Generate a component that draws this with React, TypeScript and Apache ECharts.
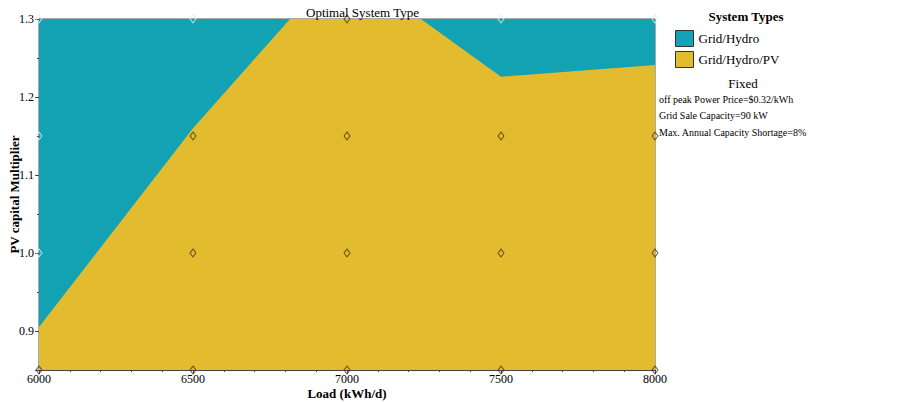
import React, { useEffect, useRef } from "react";
import * as echarts from "echarts";

const FONT = "'Liberation Serif', 'Times New Roman', serif";

const seriesNames = ["Grid/Hydro", "Grid/Hydro/PV"];
const seriesColors = ["#13a2b3", "#e2bb2e"];

// boundary between Grid/Hydro (above) and Grid/Hydro/PV (below)
const boundaryLoad = [6000, 6500, 6815, 7240, 7500, 8000];
const boundaryPV = [0.905, 1.16, 1.3, 1.3, 1.226, 1.241];

// top of the plotted region (Grid/Hydro fills everything above the boundary)
const topLoad = [6000, 8000];
const topPV = [1.3, 1.3];

// sensitivity points
const ptsYellowLoad = [7000, 6000, 6500, 7000, 7500, 8000, 6500, 7000, 7500, 8000, 6500, 7000, 7500, 8000];
const ptsYellowPV = [1.3, 0.85, 0.85, 0.85, 0.85, 0.85, 1.15, 1.15, 1.15, 1.15, 1.0, 1.0, 1.0, 1.0];
const ptsTealLoad = [6000, 6500, 7500, 8000, 6000, 6000];
const ptsTealPV = [1.3, 1.3, 1.3, 1.3, 1.15, 1.0];

const fixedLines = [
  "off peak Power Price=$0.32/kWh",
  "Grid Sale Capacity=90 kW",
  "Max. Annual Capacity Shortage=8%",
];

const zip = (a: number[], b: number[]) => a.map((v, i) => [v, b[i]]);

export default function App() {
  const ref = useRef<HTMLDivElement>(null);
  useEffect(() => {
    if (!ref.current) return;
    const chart = echarts.init(ref.current, undefined, { renderer: "svg" });
    chart.setOption({
      animation: false,
      textStyle: { fontFamily: FONT },
      title: [
        {
          text: "Optimal System Type",
          left: 301,
          top: 1,
          textStyle: { fontFamily: FONT, fontSize: 13, fontWeight: "normal", color: "#000" },
        },
        {
          text: "System Types",
          left: 741,
          top: 5,
          textAlign: "center",
          textStyle: { fontFamily: FONT, fontSize: 13, fontWeight: "bold", color: "#000" },
        },
        {
          text: "Fixed",
          left: 738,
          top: 72,
          textAlign: "center",
          textStyle: { fontFamily: FONT, fontSize: 13, fontWeight: "normal", color: "#000" },
        },
      ],
      legend: {
        data: seriesNames,
        orient: "vertical",
        left: 670,
        top: 25,
        itemWidth: 18,
        itemHeight: 16,
        itemGap: 4,
        icon: "rect",
        itemStyle: { borderColor: "#333", borderWidth: 1 },
        textStyle: { fontFamily: FONT, fontSize: 13, color: "#000" },
        selectedMode: false,
      },
      graphic: fixedLines.map((t, i) => ({
        type: "text",
        left: 659,
        top: 94 + i * 16.5,
        style: { text: t, font: `10px ${FONT}`, fill: "#000" },
      })),
      grid: {
        left: 39,
        right: 247,
        top: 19,
        bottom: 32,
        containLabel: false,
        outerBoundsMode: "none",
        show: true,
        borderColor: "#555",
        borderWidth: 1,
        backgroundColor: "transparent",
      },
      xAxis: {
        type: "value",
        min: 6000,
        max: 8000,
        interval: 500,
        name: "Load (kWh/d)",
        nameLocation: "middle",
        nameGap: 17,
        nameMoveOverlap: false,
        nameTextStyle: { fontFamily: FONT, fontSize: 13, fontWeight: "bold", color: "#000" },
        axisLine: { show: true, lineStyle: { color: "#444" } },
        axisTick: { show: true, length: 4, lineStyle: { color: "#444" } },
        minorTick: { show: true, splitNumber: 5, length: 2, lineStyle: { color: "#444" } },
        splitLine: { show: false },
        axisLabel: {
          fontFamily: FONT,
          fontSize: 12,
          color: "#000",
          margin: 3,
          formatter: (v: number) => String(Math.round(v)),
        },
      },
      yAxis: {
        type: "value",
        min: 0.85,
        max: 1.3,
        name: "PV capital Multiplier",
        nameLocation: "middle",
        nameGap: 18,
        nameMoveOverlap: false,
        nameTextStyle: { fontFamily: FONT, fontSize: 13, fontWeight: "bold", color: "#000" },
        axisLine: { show: true, lineStyle: { color: "#444" } },
        axisTick: { show: true, length: 4, lineStyle: { color: "#444" } },
        minorTick: { show: true, splitNumber: 2, length: 2, lineStyle: { color: "#444" } },
        splitLine: { show: false },
        axisLabel: {
          fontFamily: FONT,
          fontSize: 12,
          color: "#000",
          margin: 5,
          formatter: (v: number) =>
            Math.abs(v * 10 - Math.round(v * 10)) < 1e-6 ? v.toFixed(1) : "",
        },
      },
      series: [
        {
          name: seriesNames[0],
          type: "line",
          data: zip(topLoad, topPV),
          symbol: "none",
          lineStyle: { width: 0 },
          itemStyle: { color: seriesColors[0] },
          areaStyle: { color: seriesColors[0], opacity: 1, origin: "start" },
          silent: true,
          z: 1,
        },
        {
          name: seriesNames[1],
          type: "line",
          data: zip(boundaryLoad, boundaryPV),
          symbol: "none",
          lineStyle: { width: 0 },
          itemStyle: { color: seriesColors[1] },
          areaStyle: { color: seriesColors[1], opacity: 1, origin: "start" },
          silent: true,
          z: 2,
        },
        {
          name: "pointsYellow",
          type: "scatter",
          data: zip(ptsYellowLoad, ptsYellowPV),
          symbol: "diamond",
          symbolSize: [6, 8],
          itemStyle: { color: "transparent", borderColor: "#4a3a0a", borderWidth: 1 },
          silent: true,
          z: 3,
        },
        {
          name: "pointsTeal",
          type: "scatter",
          data: zip(ptsTealLoad, ptsTealPV),
          symbol: "diamond",
          symbolSize: [6, 8],
          itemStyle: { color: "transparent", borderColor: "#d8f2f4", borderWidth: 1 },
          silent: true,
          z: 3,
        },
      ],
    });
    return () => chart.dispose();
  }, []);
  return (
    <div
      ref={ref}
      style={{ position: "absolute", left: 0, top: 0, width: 902, height: 402 }}
    />
  );
}
